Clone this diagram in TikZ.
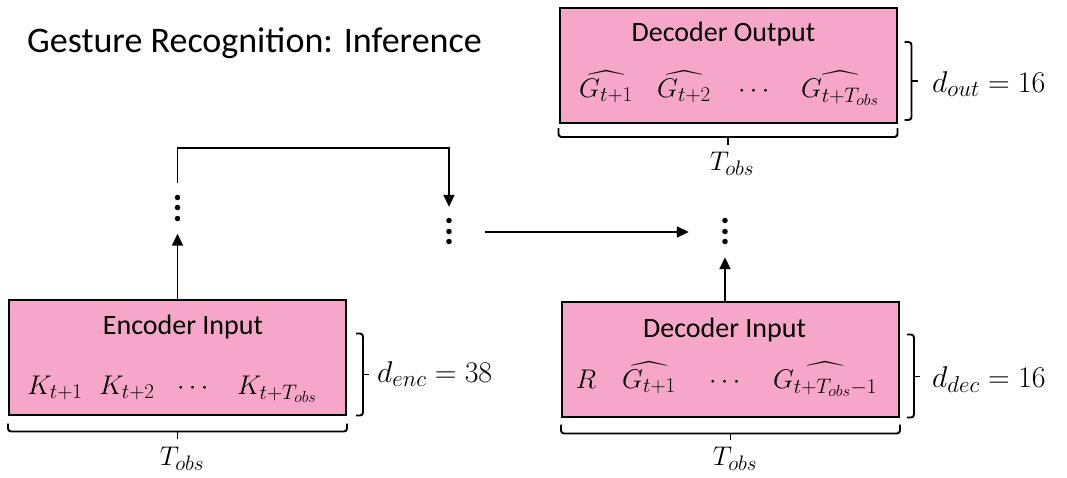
\RequirePackage{fix-cm}
\documentclass[tikz,border=0pt]{standalone}
\usepackage{amsmath}
\usepackage[no-math]{fontspec}
\setmainfont{Carlito}
\usetikzlibrary{arrows.meta}

\definecolor{boxpink}{RGB}{245,166,201}
\DeclareMathSizes{27}{27}{21}{16}
\DeclareMathSizes{30}{30}{23}{18}
\newcommand{\dotcol}{\vbox{\baselineskip=10.5pt\lineskiplimit=0pt\hbox{$\bullet$}\hbox{$\bullet$}\hbox{$\bullet$}}}

\begin{document}
\begin{tikzpicture}[x=1pt,y=-1pt,
  box/.style={draw=black,line width=2pt,fill=boxpink,minimum width=337pt,minimum height=115pt,inner sep=0pt},
  boxtitle/.style={anchor=base,inner sep=0pt,font=\fontsize{28}{32}\selectfont},
  item/.style={anchor=base,inner sep=0pt,font=\fontsize{27}{30}\selectfont},
  dimlabel/.style={anchor=base west,inner sep=0pt,font=\fontsize{30}{34}\selectfont},
  dotsnode/.style={minimum width=72pt,minimum height=50pt,inner sep=0pt,font=\fontsize{14}{14}\selectfont},
  link/.style={line width=1.9pt,-{Triangle[length=12pt,width=11pt]}},
  bracket/.style={line width=1.9pt,rounded corners=3pt}]
\useasboundingbox (0,0) rectangle (1067,477);

\node[anchor=base west,inner sep=0pt,font=\fontsize{36}{42}\selectfont] (title) at (27,52) {Gesture Recognition: Inference};

\node[box] (enc) at (177.5,357) {};
\node[box] (dout) at (728,65.5) {};
\node[box] (dec) at (730.5,359) {};

\node[boxtitle] (enctitle) at (183,334) {Encoder Input};
\node[boxtitle] (douttitle) at (723.5,41) {Decoder Output};
\node[boxtitle] (dectitle) at (724.5,337) {Decoder Input};

\node[item] (k1) at (55,394) {$K_{t+1}$};
\node[item] (k2) at (127,394) {$K_{t+2}$};
\node[item] (kdots) at (195,394) {$\cdots$};
\node[item] (kT) at (277,394) {$K_{t+T_{obs}}$};

\node[item] (g1) at (606,97) {$\widehat{G_{t+1}}$};
\node[item] (g2) at (684,97) {$\widehat{G_{t+2}}$};
\node[item] (gdots) at (756,97) {$\cdots$};
\node[item] (gT) at (840,97) {$\widehat{G_{t+T_{obs}}}$};

\node[item] (r) at (586,388) {$R$};
\node[item] (h1) at (649,388) {$\widehat{G_{t+1}}$};
\node[item] (hdots) at (727,388) {$\cdots$};
\node[item] (hT) at (825,388) {$\widehat{G_{t+T_{obs}-1}}$};

\draw[bracket] ([yshift=-8pt]enc.south west) -- ++(0,8) -- ([yshift=-16pt]enc.south east) -- ++(0,-8);
\draw[bracket] ([yshift=-16pt]enc.south) -- ++(0,7);
\draw[bracket] ([xshift=9pt,yshift=82pt]enc.south east) -- ++(7,0) -- ([xshift=16pt]enc.south east) -- ++(-7,0);
\draw[bracket] ([xshift=16pt,yshift=41pt]enc.south east) -- ++(6,0);
\draw[bracket] ([yshift=-4pt]dout.south west) -- ++(0,9) -- ([yshift=-13pt]dout.south east) -- ++(0,-9);
\draw[bracket] ([yshift=-13pt]dout.south) -- ++(0,8);
\draw[bracket] ([xshift=7pt,yshift=82pt]dout.south east) -- ++(7,0) -- ([xshift=14pt,yshift=4pt]dout.south east) -- ++(-7,0);
\draw[bracket] ([xshift=14pt,yshift=43pt]dout.south east) -- ++(6,0);
\draw[bracket] ([yshift=-7pt]dec.south west) -- ++(0,9) -- ([yshift=-16pt]dec.south east) -- ++(0,-9);
\draw[bracket] ([yshift=-16pt]dec.south) -- ++(0,6);
\draw[bracket] ([xshift=7pt,yshift=83pt]dec.south east) -- ++(7,0) -- ([xshift=14pt]dec.south east) -- ++(-7,0);
\draw[bracket] ([xshift=14pt,yshift=41pt]dec.south east) -- ++(6,0);

\node[item] (enctobs) at (182,465) {$T_{obs}$};
\node[item] (douttobs) at (732,170) {$T_{obs}$};
\node[item] (dectobs) at (735,465) {$T_{obs}$};
\node[dimlabel] (denc) at (377,382) {$d_{enc}=38$};
\node[dimlabel] (ddout) at (932,92) {$d_{out}=16$};
\node[dimlabel] (ddec) at (932,387) {$d_{dec}=16$};

\node[dotsnode] (encdots) at (177.5,208.5) {\dotcol};
\node[dotsnode] (middots) at (449,232) {\dotcol};
\node[dotsnode] (decdots) at (725,232) {\dotcol};

\draw[link] (enc.north) -- (encdots.south);
\draw[link] (encdots.north) -- ++(0,-35) -| (middots.north);
\draw[link] (middots.east) -- (decdots.west);
\draw[link] (decdots.south |- dec.north) -- (decdots.south);
\end{tikzpicture}
\end{document}
